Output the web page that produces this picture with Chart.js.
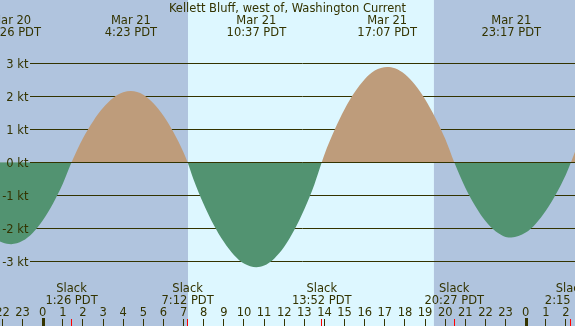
<!DOCTYPE html>
<html>
<head>
<meta charset="utf-8">
<script src="https://cdn.jsdelivr.net/npm/chart.js@4/dist/chart.umd.min.js"></script>
<style>
html,body{margin:0;padding:0;background:#B0C4DE;}
canvas{display:block;}
</style>
</head>
<body>
<canvas id="c" width="575" height="326"></canvas>
<script>
// Hours relative to midnight starting Mar 21 (PDT), current speed in knots
const hours = [-2.5, -2.0, -1.567, -1.0, -0.5, 0, 0.5, 1.0, 1.433, 2.0, 2.5, 3.0, 3.5, 4.0, 4.383,
  5.0, 5.5, 6.0, 6.5, 7.0, 7.2, 7.5, 8.0, 8.5, 9.0, 9.5, 10.0, 10.617, 11.0, 11.5, 12.0, 12.5,
  13.0, 13.5, 13.867, 14.0, 14.5, 15.0, 15.5, 16.0, 16.5, 17.117, 17.5, 18.0, 18.5, 19.0, 19.5,
  20.0, 20.45, 21.0, 21.5, 22.0, 22.5, 23.0, 23.283, 24.0, 24.5, 25.0, 25.5, 26.0, 26.25, 26.5];
const knots = [-2.26, -2.43, -2.48, -2.38, -2.14, -1.76, -1.26, -0.65, 0, 0.73, 1.24, 1.65, 1.95, 2.12, 2.16,
  2.05, 1.79, 1.41, 0.91, 0.30, 0, -0.53, -1.27, -1.90, -2.41, -2.81, -3.07, -3.18, -3.13, -2.92, -2.56, -2.05,
  -1.42, -0.67, 0, 0.24, 0.98, 1.61, 2.12, 2.52, 2.78, 2.89, 2.85, 2.67, 2.35, 1.91, 1.36,
  0.71, 0, -0.77, -1.33, -1.78, -2.09, -2.26, -2.28, -2.13, -1.86, -1.47, -0.97, -0.37, 0, 0.40];

const extremeHours = [-1.567, 4.383, 10.617, 17.117, 23.283];
const extremeDates = ['Mar 20', 'Mar 21', 'Mar 21', 'Mar 21', 'Mar 21'];
const extremeTimes = ['22:26 PDT', '4:23 PDT', '10:37 PDT', '17:07 PDT', '23:17 PDT'];

const slackHours = [1.433, 7.2, 13.867, 20.45, 26.25];
const slackTimes = ['1:26 PDT', '7:12 PDT', '13:52 PDT', '20:27 PDT', '2:15 PDT'];

const hourTicks = [-2, -1, 0, 1, 2, 3, 4, 5, 6, 7, 8, 9, 10, 11, 12, 13, 14, 15, 16, 17, 18, 19, 20, 21, 22, 23, 24, 25, 26];
const hourLabels = ['22', '23', '0', '1', '2', '3', '4', '5', '6', '7', '8', '9', '10', '11', '12', '13', '14', '15', '16', '17', '18', '19', '20', '21', '22', '23', '0', '1', '2'];
const midnightHours = [0, 24];

const knotLevels = [3, 2, 1, 0, -1, -2, -3];
const knotLabels = ['3 kt', '2 kt', '1 kt', '0 kt', '-1 kt', '-2 kt', '-3 kt'];

const sunriseHour = 7.22;
const sunsetHour = 19.44;

const title = 'Kellett Bluff, west of, Washington Current';

const NIGHT = '#B0C4DE', DAY = '#DDF7FF', FLOOD = '#BE9C7B', EBB = '#529371', INK = '#333300';
const FONT = '11.5px "DejaVu Sans"';

const decor = {
  id: 'decor',
  beforeDraw(chart) {
    const {ctx, chartArea: a, scales: {x, y}} = chart;
    ctx.save();
    ctx.fillStyle = NIGHT;
    ctx.fillRect(0, 0, chart.width, chart.height);
    ctx.fillStyle = DAY;
    const x1 = x.getPixelForValue(sunriseHour), x2 = x.getPixelForValue(sunsetHour);
    ctx.fillRect(x1, 0, x2 - x1, chart.height);
    ctx.strokeStyle = INK;
    ctx.lineWidth = 1;
    knotLevels.forEach(k => {
      if (k === 0) return;
      const py = Math.floor(y.getPixelForValue(k)) + 0.5;
      ctx.beginPath(); ctx.moveTo(30, py); ctx.lineTo(a.right, py); ctx.stroke();
    });
    ctx.restore();
  },
  afterDatasetsDraw(chart) {
    const {ctx, chartArea: a, scales: {x, y}} = chart;
    ctx.save();
    ctx.strokeStyle = INK;
    ctx.lineWidth = 1;
    const zy = Math.floor(y.getPixelForValue(0)) + 0.5;
    ctx.beginPath(); ctx.moveTo(30, zy); ctx.lineTo(a.right, zy); ctx.stroke();

    ctx.font = FONT;
    ctx.fillStyle = INK;
    ctx.textBaseline = 'alphabetic';
    // y labels
    ctx.textAlign = 'right';
    knotLevels.forEach((k, i) => {
      ctx.fillText(knotLabels[i], 28.5, Math.round(y.getPixelForValue(k) + 4.5));
    });
    // title
    ctx.textAlign = 'center';
    ctx.fillText(title, chart.width / 2, 12);
    // extremes
    extremeHours.forEach((h, i) => {
      const px = x.getPixelForValue(h);
      ctx.fillText(extremeDates[i], px, 24);
      ctx.fillText(extremeTimes[i], px, 36);
    });
    // slacks
    slackHours.forEach((h, i) => {
      const px = x.getPixelForValue(h);
      ctx.fillText('Slack', px, 291.5);
      ctx.fillText(slackTimes[i], px, 304);
    });
    // hour labels and ticks
    hourTicks.forEach((h, i) => {
      const px = x.getPixelForValue(h);
      ctx.fillText(hourLabels[i], px, 316);
      ctx.fillStyle = INK;
      if (midnightHours.includes(h)) {
        ctx.fillRect(Math.round(px) - 1, 318, 3, 8);
      } else {
        ctx.fillRect(Math.floor(px), 319, 1, 7);
      }
    });
    ctx.fillStyle = '#FF0000';
    slackHours.forEach(h => {
      const px = x.getPixelForValue(h);
      ctx.fillRect(Math.floor(px), 319, 1, 7);
    });
    ctx.restore();
  }
};

new Chart(document.getElementById('c'), {
  type: 'line',
  data: {
    datasets: [{
      data: hours.map((h, i) => ({x: h, y: knots[i]})),
      fill: {target: 'origin', above: FLOOD, below: EBB},
      borderColor: 'rgba(0,0,0,0)',
      borderWidth: 0,
      pointRadius: 0,
      cubicInterpolationMode: 'monotone'
    }]
  },
  options: {
    responsive: false,
    animation: false,
    devicePixelRatio: 1,
    layout: {padding: 0},
    scales: {
      x: {type: 'linear', min: -42.7 / 20.125, max: (575 - 42.7) / 20.125, display: false},
      y: {type: 'linear', min: -(326 - 162.3) / 33, max: 162.3 / 33, display: false}
    },
    plugins: {legend: {display: false}, tooltip: {enabled: false}}
  },
  plugins: [decor]
});
</script>
</body>
</html>
